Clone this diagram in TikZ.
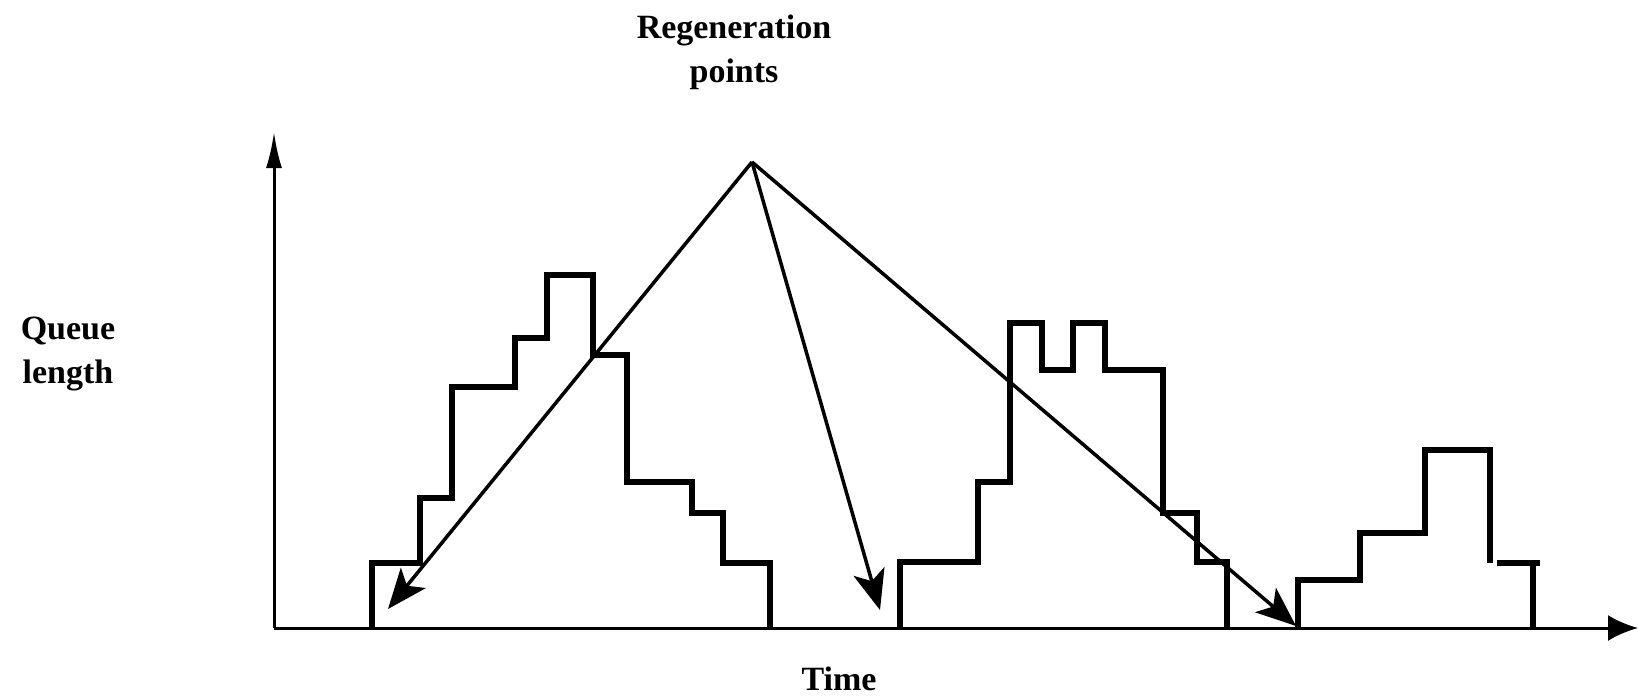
\documentclass[tikz,border=0pt]{standalone}
\usepackage{fontspec}
\setmainfont{Liberation Serif}
\usetikzlibrary{arrows.meta}

\begin{document}
\begin{tikzpicture}
	[x=1pt,y=-1pt,
		axis/.style={line width=3pt,-{Latex[length=36pt,width=16pt]}},
		pulse/.style={line width=6pt,line join=miter},
		regen/.style={line width=3.5pt,-{Stealth[length=40pt,width=32pt,inset=10pt]}},
		label node/.style={font=\fontsize{34}{44}\selectfont\bfseries,align=center,inner sep=1pt}]

	\useasboundingbox (0,0) rectangle (1638,699);

	\node[label node]  (regen)  at (734,52)   {Regeneration\\points};
	\node[label node]  (qlen)   at (68,354)   {Queue\\length};
	\node[label node]  (time)   at (839,679)  {Time};

	\coordinate (O)     at (274,628);
	\coordinate (ytop)  at (274,132);
	\coordinate (xend)  at (1638,628);
	\coordinate (apex)  at (752,162);
	\coordinate (endA)  at (388,609);
	\coordinate (endB)  at (880,610);
	\coordinate (endC)  at (1296,626);

	% axes
	\draw[axis] (O) -- (ytop);
	\draw[axis,-{Latex[length=30pt,width=26pt]}] (O) -- (xend);

	% busy periods
	\draw[pulse] (372,628) -- (372,563) -- (420,563) -- (420,498) -- (452,498) -- (452,387)
		-- (515,387) -- (515,338) -- (547,338) -- (547,275) -- (593,275) -- (593,355)
		-- (627,355) -- (627,482) -- (692,482) -- (692,513) -- (723,513) -- (723,563)
		-- (770,563) -- (770,628);
	\draw[pulse] (900,628) -- (900,562) -- (978,562) -- (978,482) -- (1010,482) -- (1010,323)
		-- (1042,323) -- (1042,370) -- (1073,370) -- (1073,323) -- (1105,323) -- (1105,370)
		-- (1163,370) -- (1163,513) -- (1197,513) -- (1197,562) -- (1227,562) -- (1227,628);
	\draw[pulse] (1298,628) -- (1298,580) -- (1360,580) -- (1360,533) -- (1425,533) -- (1425,450)
		-- (1490,450) -- (1490,563) (1497,563) -- (1540,563) (1533,563) -- (1533,628);

	% regeneration arrows
	\draw[regen] (apex) -- (endA);
	\draw[regen] (apex) -- (endB);
	\draw[regen] (apex) -- (endC);

\end{tikzpicture}
\end{document}
